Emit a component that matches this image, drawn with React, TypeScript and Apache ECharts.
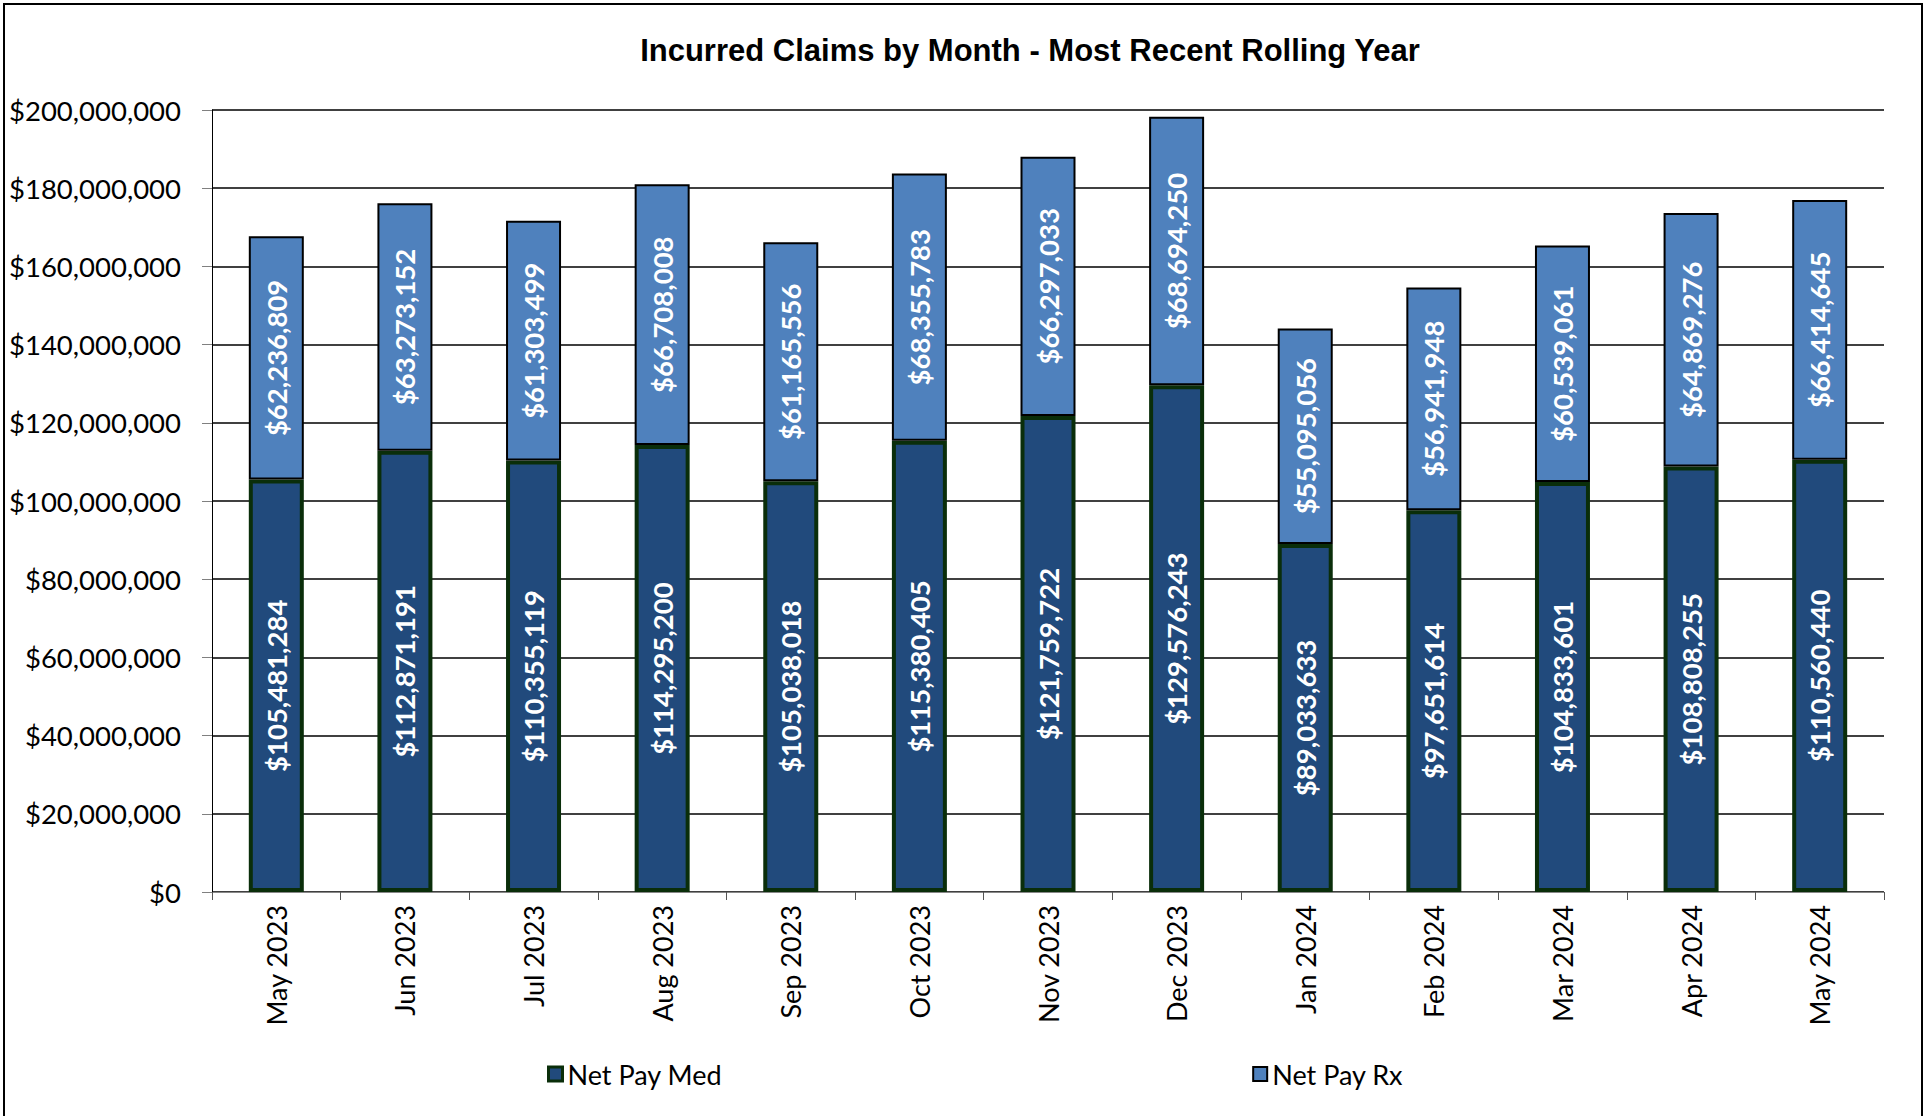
import React, { useEffect, useRef } from "react";
import * as echarts from "echarts";

const months = ["May 2023", "Jun 2023", "Jul 2023", "Aug 2023", "Sep 2023", "Oct 2023", "Nov 2023", "Dec 2023", "Jan 2024", "Feb 2024", "Mar 2024", "Apr 2024", "May 2024"];
const netPayMed = [105481284, 112871191, 110355119, 114295200, 105038018, 115380405, 121759722, 129576243, 89033633, 97651614, 104833601, 108808255, 110560440];
const netPayRx = [62236809, 63273152, 61303499, 66708008, 61165556, 68355783, 66297033, 68694250, 55095056, 56941948, 60539061, 64869276, 66414645];
const yMin = 0;
const yMax = 200000000;
const yInterval = 20000000;

const money = (v: number) => "$" + Math.round(v).toLocaleString("en-US");

export default function App() {
  const ref = useRef<HTMLDivElement>(null);
  useEffect(() => {
    if (!ref.current) return;
    const chart = echarts.init(ref.current, null, { renderer: "svg" });
    const font = "Lato";
    chart.setOption({
      animation: false,
      backgroundColor: "#ffffff",
      title: {
        text: "Incurred Claims by Month - Most Recent Rolling Year",
        left: 1030,
        textAlign: "center",
        top: 35,
        padding: 0,
        textStyle: { fontFamily: "Liberation Sans", fontWeight: "bold", fontSize: 31, color: "#000" },
      },
      graphic: [
        {
          type: "rect",
          shape: { x: 4, y: 4, width: 1918, height: 1200 },
          style: { fill: "none", stroke: "#000", lineWidth: 2 },
          silent: true,
          z: 100,
        },
      ],
      legend: {
        left: 542,
        top: 1055,
        itemWidth: 14,
        itemHeight: 14,
        itemGap: 530,
        icon: "rect",
        textStyle: { fontFamily: font, fontSize: 27, color: "#000", lineHeight: 28 },
        data: [
          { name: "Net Pay Med", itemStyle: { color: "#214A7C", borderColor: "#0A2E0A", borderWidth: 3 } },
          { name: "Net Pay Rx", itemStyle: { color: "#4F81BD", borderColor: "#000", borderWidth: 2 } },
        ],
      },
      grid: { left: 212, right: 45, top: 110, bottom: 224, containLabel: false },
      xAxis: {
        type: "category",
        data: months,
        axisLine: { lineStyle: { color: "#888", width: 1 } },
        axisTick: { show: true, length: 8, lineStyle: { color: "#555" } },
        axisLabel: { rotate: 90, margin: 13, fontFamily: font, fontSize: 27, color: "#000" },
      },
      yAxis: {
        type: "value",
        min: yMin,
        max: yMax,
        interval: yInterval,
        axisLine: { show: true, lineStyle: { color: "#000", width: 1 } },
        axisTick: { show: true, length: 10, lineStyle: { color: "#808080" } },
        axisLabel: { margin: 31, fontFamily: font, fontSize: 27.5, color: "#000", formatter: (v: number) => money(v) },
        splitLine: { show: true, lineStyle: { color: "#000", width: 1.5 } },
      },
      series: [
        {
          name: "Net Pay Med",
          type: "bar",
          stack: "total",
          data: netPayMed,
          barWidth: 55,
          itemStyle: { color: "#214A7C", borderColor: "#0A2E0A", borderWidth: 4 },
          label: {
            show: true,
            position: "inside",
            rotate: 90,
            color: "#fff",
            fontFamily: font,
            fontWeight: "bold",
            fontSize: 27.5,
            formatter: (p: any) => money(p.value),
          },
        },
        {
          name: "Net Pay Rx",
          type: "bar",
          stack: "total",
          data: netPayRx,
          barWidth: 55,
          itemStyle: { color: "#4F81BD", borderColor: "#000", borderWidth: 2 },
          label: {
            show: true,
            position: "inside",
            rotate: 90,
            color: "#fff",
            fontFamily: font,
            fontWeight: "bold",
            fontSize: 27.5,
            formatter: (p: any) => money(p.value),
          },
        },
      ],
    });
    return () => chart.dispose();
  }, []);
  return <div ref={ref} style={{ position: "absolute", left: 0, top: 0, width: 1929, height: 1116 }} />;
}
